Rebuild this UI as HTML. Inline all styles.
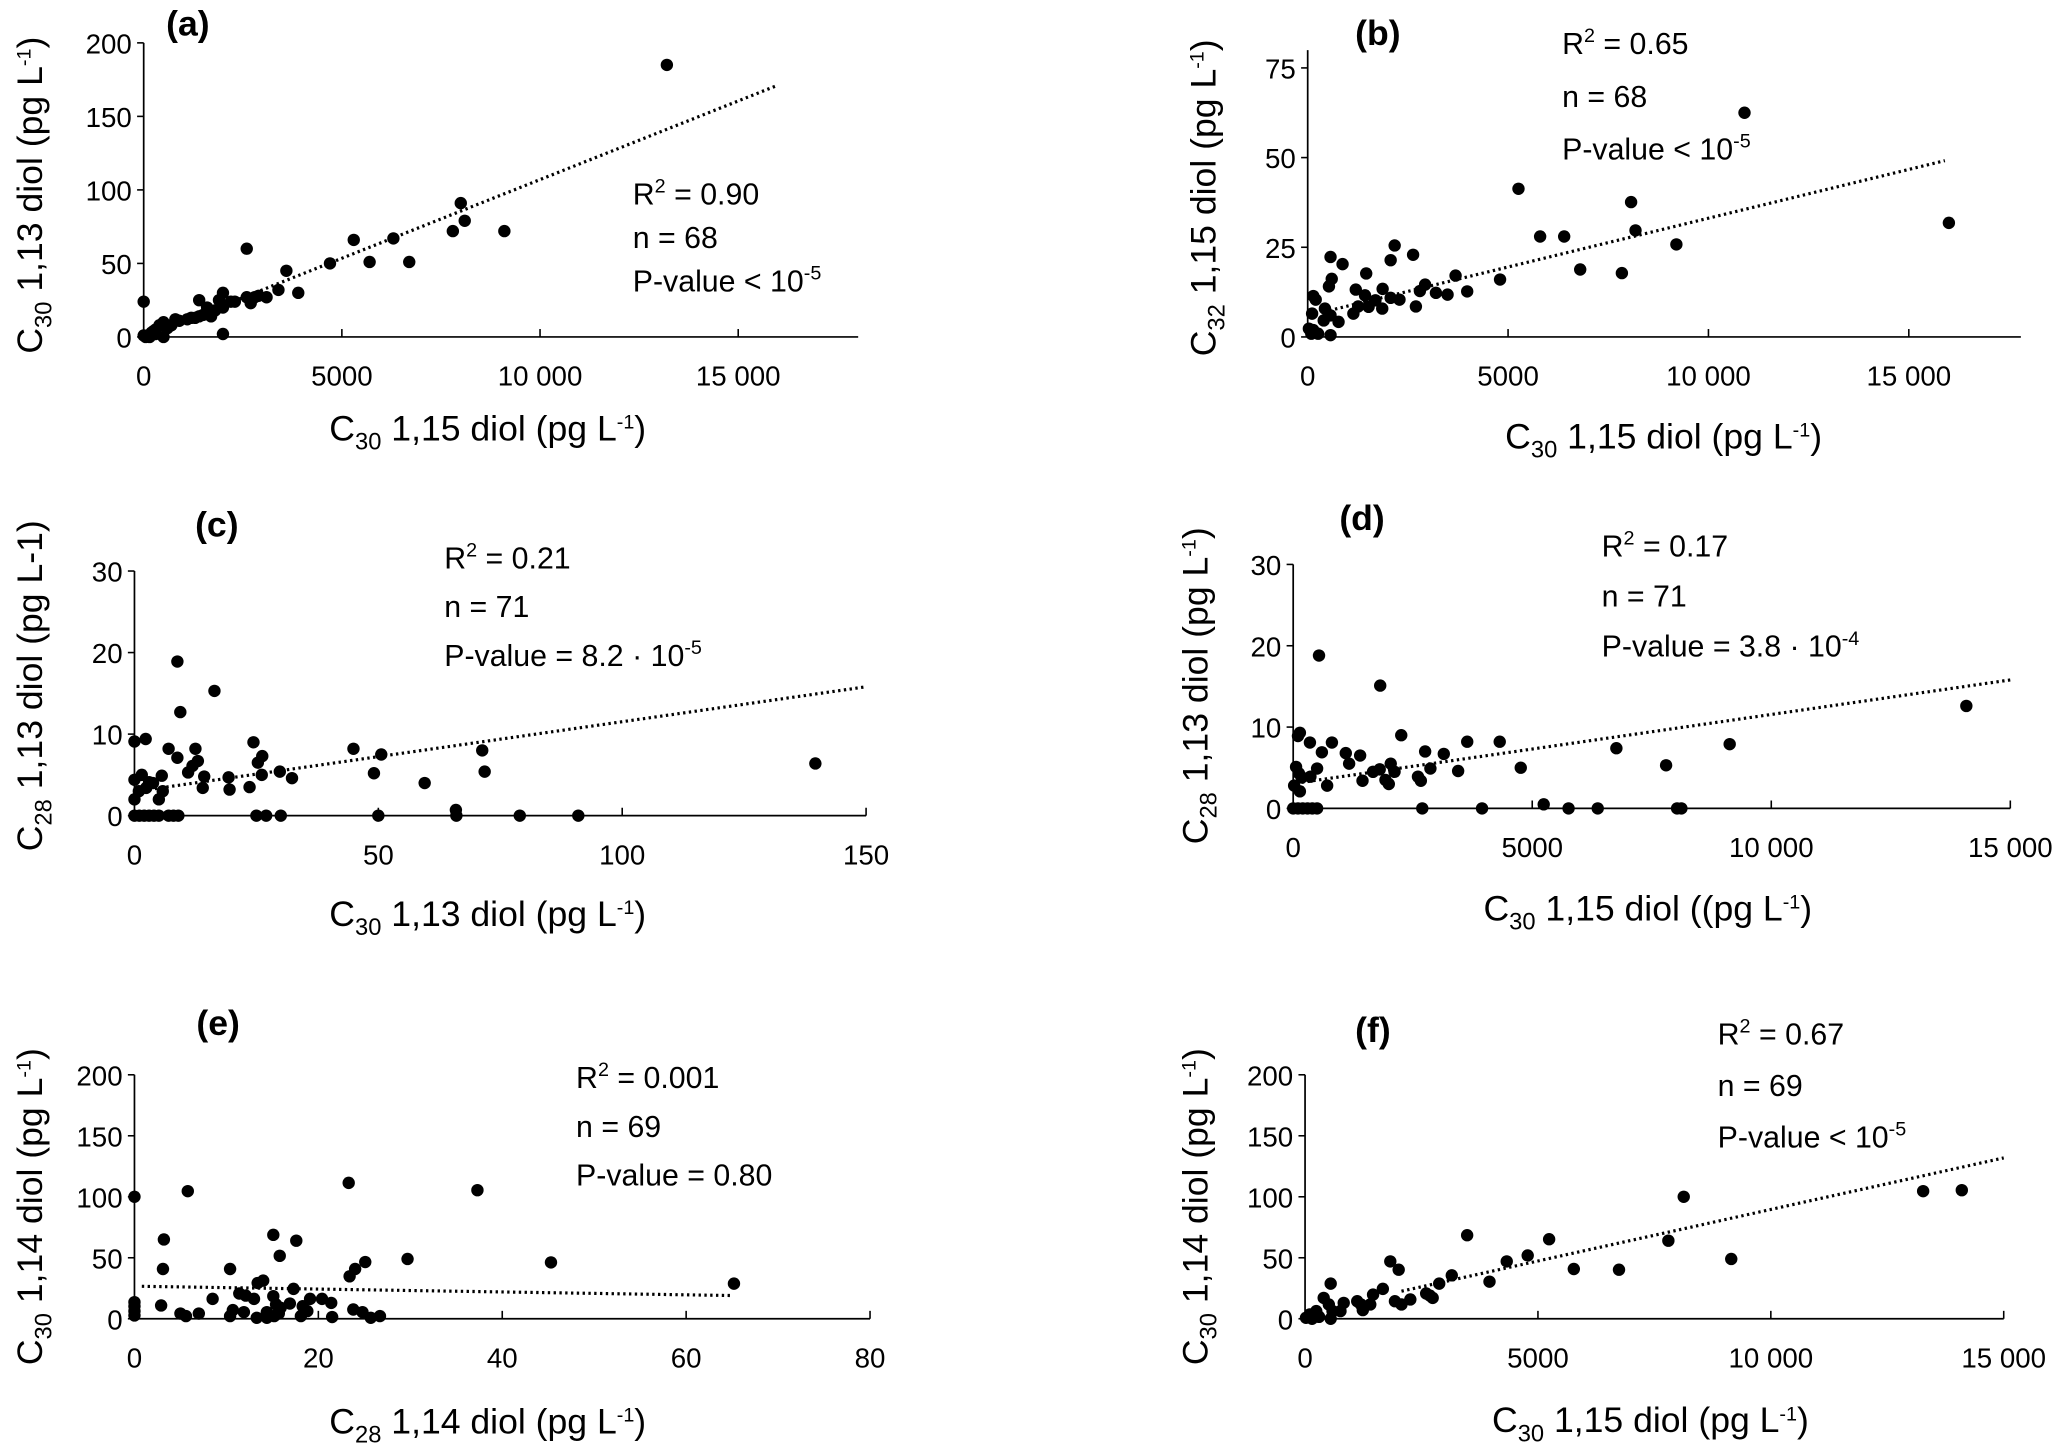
<!DOCTYPE html>
<html><head><meta charset="utf-8"><style>
html,body{margin:0;padding:0;background:#fff;}
svg{display:block;}
text{font-family:"Liberation Sans",sans-serif;fill:#000;}
</style></head><body>
<svg id="fig" width="2067" height="1448" viewBox="0 0 1568 1098" preserveAspectRatio="none" xmlns="http://www.w3.org/2000/svg"></svg>
<script>
// Panel (a)
const aX=[13200,8000,8100,7800,9100,6300,5300,6700,5700,4700,2600,3600,3900,3400,3100,2800,2700,2600,2200,2000,1900,2000,1800,1700,1600,1400,1400,1200,1100,800,700,500,400,300,200,100,50,0,0,2000,500,150,300,600,250,900,1300,1500,2300,2900];
const aY=[185,91,79,72,72,67,66,51,51,50,60,45,30,32,27,27,23,27,24,30,25,20,18,14,20,25,14,13,12,12,8,10,8,5,3,1,0,24,1,2,0,0,2,6,4,11,13,15,24,28];
const aTrend=[0,0.0107,500,16000];
// Panel (b)
const bX=[16000,10900,5260,8070,8180,5800,6400,9200,6800,7840,4800,3690,3980,3490,3200,2930,2800,2700,2630,2170,2070,2290,2070,1870,1860,1690,1460,1430,1520,1200,1140,1260,870,570,600,530,770,570,430,200,140,110,140,570,260,90,400,30];
const bY=[31.8,62.5,41.3,37.6,29.7,28,28,25.8,18.8,17.8,16,17.1,12.7,11.8,12.3,14.6,12.8,8.5,22.9,25.5,21.4,10.4,10.9,13.4,7.9,10.2,17.7,11.6,8.4,13.2,6.5,8.5,20.3,22.3,16.2,14.1,4.2,6,7.9,10.4,11.4,6.5,1.9,0.5,0.9,0.9,4.6,2.3];
const bTrend=[5.9,0.00272,400,15900];
// Panel (c)
const cX=[8.8,16.4,9.4,0,2.3,7,8.8,12.5,13,11.9,11,14.3,14,19.3,19.5,24.4,26.2,25.3,26.1,23.6,29.8,32.3,44.9,50.6,49.1,59.5,71.3,71.8,139.6,65.9,0,1,2,3,4,5,7,8,9,25,27,30,50,66,79,91,0,1.5,3,3.8,0,0.9,5.6,5.8,5,2.4];
const cY=[18.9,15.3,12.7,9.1,9.4,8.2,7.1,8.2,6.7,6.1,5.3,4.8,3.4,4.7,3.2,9,7.3,6.5,5,3.5,5.4,4.6,8.2,7.5,5.2,4,8,5.4,6.4,0.7,0,0,0,0,0,0,0,0,0,0,0,0,0,0,0,0,4.4,5,4.1,4,2,3,4.9,3,2,3.4];
const cTrend=[2.95,0.0857,3,150];
// Panel (d)
const dX=[540,1820,14080,9130,6760,7800,4760,4320,3640,3150,2760,2870,3450,2260,2040,2120,1930,2000,1670,1810,2610,2670,1400,1100,1170,1450,810,600,350,140,100,500,360,60,120,180,20,140,710,5240,0,100,200,300,400,500,2700,3950,5760,6370,8030,8120];
const dY=[18.8,15.1,12.6,7.9,7.4,5.3,5,8.2,8.2,6.7,7,4.9,4.6,9,5.5,4.5,3.5,3,4.5,4.8,3.9,3.4,6.5,6.8,5.5,3.4,8.1,6.9,8.1,9.3,8.9,4.9,3.9,5.1,4.3,3.8,2.8,2.1,2.8,0.5,0,0,0,0,0,0,0,0,0,0,0,0];
const dTrend=[3.05,0.00085,60,15000];
// Panel (e)
const eX=[0,5.8,23.3,37.3,3.2,15.1,17.6,15.8,29.7,45.3,25.1,24,23.4,3.1,10.4,14,13.4,65.2,17.3,8.5,11.4,12.1,13,15.1,19.1,20.4,21.4,16.9,18.3,2.9,0,0,0,0,5,5.6,7,10.4,10.7,11.9,13.3,14.4,15.2,15.7,15.9,18.1,21.5,23.8,24.8,25.7,26.7,18.8,15.4,14.4];
const eY=[100,104.6,111.4,105.4,65,68.8,64,51.6,49,46.2,46.5,40.8,34.8,40.8,40.8,31.3,29.3,28.8,24.5,16.3,20.7,19,16.3,18.5,16.3,16.3,13,12.5,10.3,10.9,13.6,10.3,6.3,2.7,4.3,2.2,4.3,2.2,7.1,5.4,0.8,5.4,2.2,4.3,9,2.2,1.4,7.6,5.4,0.8,2.2,6.3,11.7,0.8];
const eTrend=[26.7,-0.118,0.8,64.9];
// Panel (f)
const fX=[13270,14100,8130,9150,7800,5770,6740,5240,4780,4330,3960,3480,3150,2880,2680,2740,2600,2260,2070,2010,1830,1930,1670,1460,1400,1240,1120,1200,830,760,550,400,510,550,240,100,20,150,300,590];
const fY=[104.6,105.4,100,49,64,40.8,40.2,65.2,51.9,47,30.4,68.5,35.6,28.8,19,17.1,20.7,15.8,11.7,40.2,47,14.4,24.5,19.8,11.7,7.1,14.4,11.7,13,6.3,28.8,17.1,11.7,0,6.3,3.5,0.8,0,1.6,6.3];
const fTrend=[5.1,0.00845,2070,15000];

const xTicksA=["0","5000","10 000","15 000"], xTickValsA=[0,5000,10000,15000];
const yTicksA=[0,50,100,150,200];
const yTicksB=[0,25,50,75];
const yTicksC=[0,10,20,30];
const xTicksC=[0,50,100,150];
const xTicksE=[0,20,40,60,80];

const NS="http://www.w3.org/2000/svg";
const svg=document.getElementById('fig');
function mk(tag,attrs,parent){const e=document.createElementNS(NS,tag);for(const k in attrs)e.setAttribute(k,attrs[k]);(parent||svg).appendChild(e);return e;}

function panel(cfg){
  const g=mk('g',{});
  
  
  const sx=v=>cfg.x0+(v-0)/(cfg.xmax)*(cfg.x1-cfg.x0);
  const sy=v=>cfg.y0-(v)/(cfg.ymax)*(cfg.y0-cfg.y1);
  const ya=mk('line',{x1:cfg.x0,y1:cfg.y0,x2:cfg.x0,y2:cfg.yTop,stroke:'#000','stroke-width':1.3},g);
  
  
  const xa=mk('line',{x1:cfg.x0,y1:cfg.y0,x2:cfg.xEnd,y2:cfg.y0,stroke:'#000','stroke-width':1.3},g);
  
  
  cfg.yt.forEach(v=>{
    const y=sy(v);
    mk('line',{x1:cfg.x0-5,y1:y,x2:cfg.x0,y2:y,stroke:'#000','stroke-width':1.2},g);
    const t=mk('text',{x:cfg.x0-9,y:y+8,'text-anchor':'end','font-size':21},g);
    t.textContent=v;
    
    
  });
  cfg.xtv.forEach((v,i)=>{
    const x=sx(v);
    if(i>0) mk('line',{x1:x,y1:cfg.y0,x2:x,y2:cfg.y0-6,stroke:'#000','stroke-width':1.2},g);
    const t=mk('text',{x:x,y:cfg.y0+37,'text-anchor':'middle','font-size':21},g);
    t.textContent=cfg.xtl[i];
    
    
  });
  const [b0,b1,xa0,xa1]=cfg.trend;
  const tl=mk('line',{x1:sx(xa0),y1:sy(b0+b1*xa0),x2:sx(xa1),y2:sy(b0+b1*xa1),stroke:'#000','stroke-width':2.4,'stroke-dasharray':'1.8 2.6'},g);
  
  
  cfg.X.forEach((xv,i)=>{
    const c=mk('circle',{cx:sx(xv),cy:sy(cfg.Y[i]),r:4.7,fill:'#000'},g);
    
    
  });
  const pl=mk('text',{x:cfg.lab[0],y:cfg.lab[1],'font-size':27,'font-weight':'bold'},g);
  pl.textContent='('+cfg.id+')';
  
  
  cfg.stats.forEach((s,i)=>{
    const t=mk('text',{x:cfg.st[0],y:cfg.st[1]+i*cfg.st[2],'font-size':23},g);
    t.innerHTML=s;
    
    
  });
  const xt=mk('text',{x:cfg.xtit[0],y:cfg.xtit[1],'text-anchor':'middle','font-size':27},g);
  xt.innerHTML=cfg.xtitle;
  
  
  const yt=mk('text',{x:0,y:0,'text-anchor':'middle','font-size':27,transform:`translate(${cfg.ytit[0]},${cfg.ytit[1]}) rotate(-90)`},g);
  yt.innerHTML=cfg.ytitle;
  
  
}
const sub=s=>`<tspan dy="7" font-size="18">${s}</tspan><tspan dy="-7"> </tspan>`;
const pl='(pg L'+'<tspan dy="-9" font-size="15">-1</tspan><tspan dy="9">)</tspan>';
const r2=v=>`R<tspan dy="-9" font-size="15">2</tspan><tspan dy="9"> = ${v}</tspan>`;
const pv=`P-value &lt; 10<tspan dy="-9" font-size="15">-5</tspan>`;
const kTl=["0","5000","10 000","15 000"];

panel({id:'a',x0:109,x1:560,xmax:15000,xEnd:651,y0:255.5,y1:32.5,ymax:200,yTop:32.5,yt:yTicksA,xtv:xTickValsA,xtl:xTicksA,X:aX,Y:aY,trend:aTrend,
  lab:[126,27],st:[480,155,33],stats:[r2('0.90'),'n = 68',pv],xtitle:'C'+sub('30')+'1,15 diol '+pl,xtit:[370,334],ytitle:'C'+sub('30')+'1,13 diol '+pl,ytit:[32,148]});
panel({id:'b',x0:992,x1:1448,xmax:15000,xEnd:1533,y0:255.5,y1:51.5,ymax:75,yTop:38,yt:yTicksB,xtv:xTickValsA,xtl:kTl,X:bX,Y:bY,trend:bTrend,
  lab:[1028,34],st:[1185,41,40],stats:[r2('0.65'),'n = 68',pv],xtitle:'C'+sub('30')+'1,15 diol '+pl,xtit:[1262,340],ytitle:'C'+sub('32')+'1,15 diol '+pl,ytit:[922,150]});
panel({id:'c',x0:102,x1:657,xmax:150,xEnd:657,y0:618.5,y1:433,ymax:30,yTop:433,yt:yTicksC,xtv:xTicksC,xtl:xTicksC.map(String),X:cX,Y:cY,trend:cTrend,
  lab:[148,407],st:[337,431,37],stats:[r2('0.21'),'n = 71','P-value = 8.2 · 10<tspan dy="-9" font-size="15">-5</tspan>'],xtitle:'C'+sub('30')+'1,13 diol '+pl,xtit:[370,702],ytitle:'C'+sub('28')+'1,13 diol (pg L-1)',ytit:[32,520]});
panel({id:'d',x0:981,x1:1525,xmax:15000,xEnd:1525,y0:613,y1:428,ymax:30,yTop:428,yt:yTicksC,xtv:xTickValsA,xtl:kTl,X:dX,Y:dY,trend:dTrend,
  lab:[1016,402],st:[1215,422,38],stats:[r2('0.17'),'n = 71','P-value = 3.8 · 10<tspan dy="-9" font-size="15">-4</tspan>'],xtitle:'C'+sub('30')+'1,15 diol ('+pl,xtit:[1250,698],ytitle:'C'+sub('28')+'1,13 diol '+pl,ytit:[916,520]});
panel({id:'e',x0:102,x1:660,xmax:80,xEnd:660,y0:1000,y1:815,ymax:200,yTop:815,yt:yTicksA,xtv:xTicksE,xtl:xTicksE.map(String),X:eX,Y:eY,trend:eTrend,
  lab:[149,785],st:[437,825,37],stats:[r2('0.001'),'n = 69','P-value = 0.80'],xtitle:'C'+sub('28')+'1,14 diol '+pl,xtit:[370,1087],ytitle:'C'+sub('30')+'1,14 diol '+pl,ytit:[32,915]});
panel({id:'f',x0:990,x1:1520,xmax:15000,xEnd:1520,y0:1000,y1:815,ymax:200,yTop:815,yt:yTicksA,xtv:xTickValsA,xtl:kTl,X:fX,Y:fY,trend:fTrend,
  lab:[1028,790],st:[1303,792,39],stats:[r2('0.67'),'n = 69',pv],xtitle:'C'+sub('30')+'1,15 diol '+pl,xtit:[1252,1086],ytitle:'C'+sub('30')+'1,14 diol '+pl,ytit:[916,915]});
</script>
</body></html>
